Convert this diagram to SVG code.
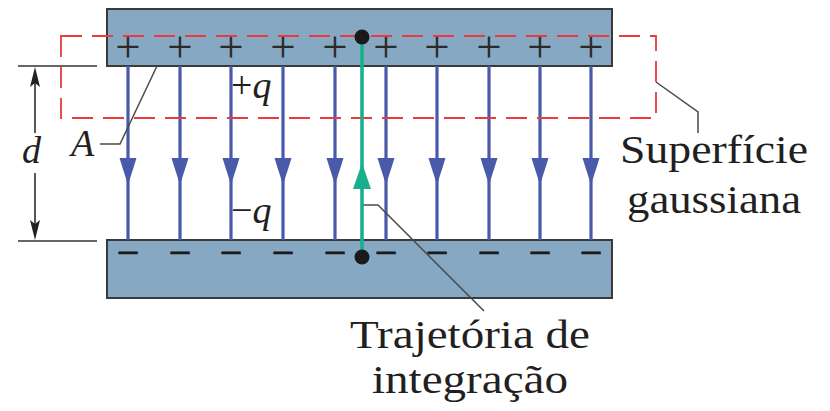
<svg xmlns="http://www.w3.org/2000/svg" xmlns:xlink="http://www.w3.org/1999/xlink" width="830" height="411" viewBox="0 0 830 411">
<style>
.plate{fill:#87a8c3;stroke:#3a3a3a;stroke-width:2}
.field{stroke:#4a5aaa;stroke-width:3.2;fill:none}
.fhead{fill:#4a5aaa}
.path{stroke:#18b08c;stroke-width:3.6;fill:none}
.gauss{fill:none;stroke:#ea3a40;stroke-width:1.8;stroke-dasharray:21 10}
.lead{fill:none;stroke:#4a4a4a;stroke-width:1.5}
.dim{fill:none;stroke:#666;stroke-width:1.8}
.dimline{fill:none;stroke:#222;stroke-width:1.5}
.dot{fill:#1a1a1a}
.sign{font-family:"Liberation Serif",serif;font-size:45px;fill:#2a2a2a;text-anchor:middle}
.minus{font-family:"Liberation Serif",serif;font-size:40px;fill:#1a1a1a;stroke:#1a1a1a;stroke-width:0.8;text-anchor:middle}
.lbl{font-family:"Liberation Serif",serif;font-size:40px;fill:#231f20}
.ital{font-family:"Liberation Serif",serif;font-size:38px;font-style:italic;fill:#231f20}
</style>
<defs>
<path id="down" class="fhead" d="M-8.5,0 L8.5,0 L0,27 Z"/>
<path id="dimUp" fill="#222" d="M0,0 L5,20 L0,16 L-5,20 Z"/>
</defs>

<g id="top-plate">
<rect class="plate" x="107" y="9" width="505" height="57"/>
<g>
<text class="sign" x="128" y="62">+</text>
<text class="sign" x="180" y="62">+</text>
<text class="sign" x="231" y="62">+</text>
<text class="sign" x="283" y="62">+</text>
<text class="sign" x="335" y="62">+</text>
<text class="sign" x="386" y="62">+</text>
<text class="sign" x="437" y="62">+</text>
<text class="sign" x="489" y="62">+</text>
<text class="sign" x="540" y="62">+</text>
<text class="sign" x="591" y="62">+</text>
</g>
</g>

<g id="bottom-plate">
<rect class="plate" x="107" y="240" width="505" height="58"/>
<g>
<text class="minus" x="128" y="266">−</text>
<text class="minus" x="180" y="266">−</text>
<text class="minus" x="231" y="266">−</text>
<text class="minus" x="283" y="266">−</text>
<text class="minus" x="335" y="266">−</text>
<text class="minus" x="386" y="266">−</text>
<text class="minus" x="437" y="266">−</text>
<text class="minus" x="489" y="266">−</text>
<text class="minus" x="540" y="266">−</text>
<text class="minus" x="591" y="266">−</text>
</g>
</g>

<g id="connectors">
<g id="field-lines">
<path class="field" d="M128,66V240M180,66V240M231,66V240M283,66V240M335,66V240M386,66V240M437,66V240M489,66V240M540,66V240M591,66V240"/>
<use xlink:href="#down" x="128" y="158"/>
<use xlink:href="#down" x="180" y="158"/>
<use xlink:href="#down" x="231" y="158"/>
<use xlink:href="#down" x="283" y="158"/>
<use xlink:href="#down" x="335" y="158"/>
<use xlink:href="#down" x="386" y="158"/>
<use xlink:href="#down" x="437" y="158"/>
<use xlink:href="#down" x="489" y="158"/>
<use xlink:href="#down" x="540" y="158"/>
<use xlink:href="#down" x="591" y="158"/>
</g>
<path class="lead" d="M100,144H120L157,66"/>
<path class="lead" d="M656,82L698,112V133"/>
<path class="lead" d="M363,205H378L484,311"/>
<g id="dimension">
<path class="dim" d="M18,66H97M18,241H97"/>
<path class="dimline" d="M35,80V133M35,173V227"/>
<use xlink:href="#dimUp" x="35" y="67"/>
<use xlink:href="#dimUp" x="35" y="-240" transform="scale(1,-1)"/>
</g>
</g>

<g id="gaussian-surface">
<rect class="gauss" x="61" y="36" width="595" height="82"/>
</g>

<g id="integration-path">
<path class="path" d="M362,37V257"/>
<path fill="#18b08c" d="M362,163L371,189H353Z"/>
<circle class="dot" cx="362" cy="37" r="7.5"/>
<circle class="dot" cx="362" cy="257" r="7.5"/>
</g>

<g id="labels">
<text class="ital" x="22" y="163">d</text>
<text class="ital" x="71" y="156">A</text>
<text class="ital" x="231" y="98"><tspan font-style="normal">+</tspan>q</text>
<text class="ital" x="231" y="223"><tspan font-style="normal">−</tspan>q</text>
<text class="lbl" x="620" y="163" textLength="188" lengthAdjust="spacingAndGlyphs">Superfície</text>
<text class="lbl" x="627" y="213" textLength="174" lengthAdjust="spacingAndGlyphs">gaussiana</text>
<text class="lbl" x="350" y="348" textLength="240" lengthAdjust="spacingAndGlyphs">Trajetória de</text>
<text class="lbl" x="372" y="393" textLength="196" lengthAdjust="spacingAndGlyphs">integração</text>
</g>
</svg>
